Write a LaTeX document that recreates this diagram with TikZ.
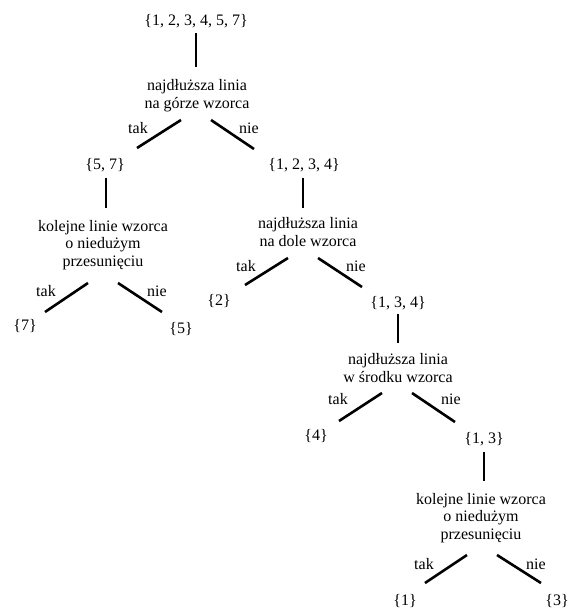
\documentclass[tikz,border=0pt]{standalone}
\usepackage{fontspec}
\setmainfont{Liberation Serif}
\tikzset{
  tekst/.style={anchor=base, inner sep=0pt, align=center, font=\fontsize{16}{17.5}\selectfont},
  krawedz/.style={line width=2.6pt},
}
\begin{document}
\begin{tikzpicture}[x=1pt,y=1pt]
        \useasboundingbox (0,0) rectangle (568,-611);
        % zbiory i pytania (wielowierszowe: linia bazowa ostatniego wiersza)
        \node[tekst] (root) at (196,-25) {\{1, 2, 3, 4, 5, 7\}};
        \node[tekst] (q1) at (197,-108) {najdłuższa linia\\na górze wzorca};
        \node[tekst] (s57) at (105,-169) {\{5, 7\}};
        \node[tekst] (s1234) at (304,-169) {\{1, 2, 3, 4\}};
        \node[tekst] (k1) at (103,-266) {kolejne linie wzorca\\o niedużym\\przesunięciu};
        \node[tekst] (q2) at (308,-246) {najdłuższa linia\\na dole wzorca};
        \node[tekst] (s7) at (25,-330) {\{7\}};
        \node[tekst] (s5) at (181,-333) {\{5\}};
        \node[tekst] (s2) at (219,-305) {\{2\}};
        \node[tekst] (s134) at (398,-307) {\{1, 3, 4\}};
        \node[tekst] (q3) at (398,-382) {najdłuższa linia\\w środku wzorca};
        \node[tekst] (s4) at (316,-440) {\{4\}};
        \node[tekst] (s13) at (484,-443) {\{1, 3\}};
        \node[tekst] (k2) at (481,-539) {kolejne linie wzorca\\o niedużym\\przesunięciu};
        \node[tekst] (s1) at (405,-605) {\{1\}};
        \node[tekst] (s3) at (557,-605) {\{3\}};
        % odpowiedzi
        \node[tekst] (tak1) at (138,-133) {tak};
        \node[tekst] (nie1) at (249,-133) {nie};
        \node[tekst] (tak2) at (46,-296) {tak};
        \node[tekst] (nie2) at (157,-296) {nie};
        \node[tekst] (tak3) at (246,-271) {tak};
        \node[tekst] (nie3) at (356,-271) {nie};
        \node[tekst] (tak4) at (338,-404) {tak};
        \node[tekst] (nie4) at (451,-404) {nie};
        \node[tekst] (tak5) at (424,-569) {tak};
        \node[tekst] (nie5) at (536,-569) {nie};
        % krawedzie
        \draw[krawedz] ([shift={(0,-8)}]root.base) -- ([shift={(-1,41)}]q1.base);
        \draw[krawedz] ([shift={(-16,-12)}]q1.base) -- ([shift={(32,21)}]s57.base);
        \draw[krawedz] ([shift={(14,-12)}]q1.base) -- ([shift={(-50,20)}]s1234.base);
        \draw[krawedz] ([shift={(1,-9)}]s57.base) -- ([shift={(3,58)}]k1.base);
        \draw[krawedz] ([shift={(-1,-9)}]s1234.base) -- ([shift={(-5,38)}]q2.base);
        \draw[krawedz] ([shift={(-15,-17)}]k1.base) -- ([shift={(20,18)}]s7.base);
        \draw[krawedz] ([shift={(15,-17)}]k1.base) -- ([shift={(-19,21)}]s5.base);
        \draw[krawedz] ([shift={(-20,-12)}]q2.base) -- ([shift={(26,20)}]s2.base);
        \draw[krawedz] ([shift={(10,-12)}]q2.base) -- ([shift={(-36,20)}]s134.base);
        \draw[krawedz] ([shift={(0,-7)}]s134.base) -- ([shift={(0,39)}]q3.base);
        \draw[krawedz] ([shift={(-16,-11)}]q3.base) -- ([shift={(23,19)}]s4.base);
        \draw[krawedz] ([shift={(14,-11)}]q3.base) -- ([shift={(-29,21)}]s13.base);
        \draw[krawedz] ([shift={(0,-9)}]s13.base) -- ([shift={(3,58)}]k2.base);
        \draw[krawedz] ([shift={(-14,-16)}]k2.base) -- ([shift={(20,22)}]s1.base);
        \draw[krawedz] ([shift={(16,-16)}]k2.base) -- ([shift={(-16,22)}]s3.base);
\end{tikzpicture}
\end{document}
